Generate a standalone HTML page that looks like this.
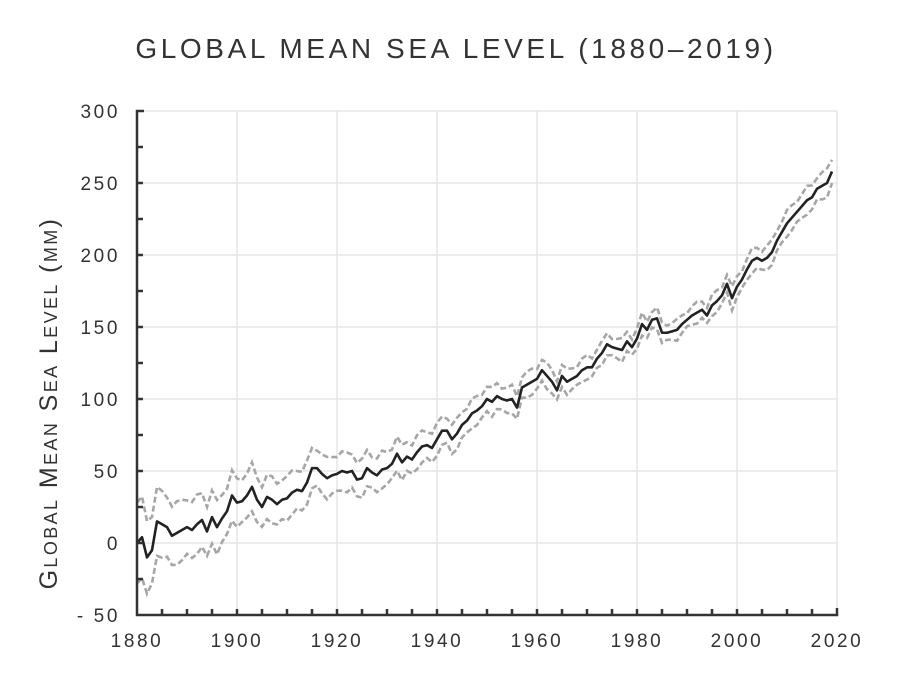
<!DOCTYPE html>
<html><head><meta charset="utf-8"><style>
html,body{margin:0;padding:0;background:#fff;}
svg{display:block;font-family:"Liberation Sans",sans-serif;}
</style></head><body>
<svg id="s" width="900" height="676" viewBox="0 0 900 676" xmlns="http://www.w3.org/2000/svg">
<text x="456" y="58" text-anchor="middle" font-size="28" fill="#333" letter-spacing="3.6" font-weight="300">GLOBAL MEAN SEA LEVEL (1880–2019)</text>
<g id="grid" stroke="#e2e2e2" stroke-width="1.3"></g>
<g id="ticks" font-size="19" fill="#333" letter-spacing="2.6"></g>
<text transform="translate(57,403) rotate(-90)" text-anchor="middle" font-size="25" fill="#333" letter-spacing="2.4">G<tspan font-size="18">LOBAL</tspan> M<tspan font-size="18">EAN</tspan> S<tspan font-size="18">EA</tspan> L<tspan font-size="18">EVEL</tspan> (<tspan font-size="18">MM</tspan>)</text>
<polyline id="up" fill="none" stroke="#a6a6a6" stroke-width="2.6" stroke-dasharray="6,3"/>
<polyline id="lo" fill="none" stroke="#a6a6a6" stroke-width="2.6" stroke-dasharray="6,3"/>
<polyline id="mn" fill="none" stroke="#222" stroke-width="2.6" stroke-linejoin="round"/>
<g id="ax" stroke="#333" stroke-width="2.5" fill="none"></g>
</svg>
<script>
var X=function(y){return 137+(y-1880)*5},Y=function(v){return 543-v*1.44};
var g=document.getElementById('grid'),t=document.getElementById('ticks'),a=document.getElementById('ax');
var ns='http://www.w3.org/2000/svg';
function el(p,n,at,txt){var e=document.createElementNS(ns,n);for(var k in at)e.setAttribute(k,at[k]);if(txt)e.textContent=txt;p.appendChild(e);return e;}
for(var y=1900;y<=2020;y+=20)el(g,'line',{x1:X(y),x2:X(y),y1:Y(300),y2:Y(-50)});
for(var v=0;v<=300;v+=50)el(g,'line',{x1:X(1880),x2:X(2020),y1:Y(v),y2:Y(v)});
for(var y=1880;y<=2020;y+=20)el(t,'text',{x:X(y),y:647,'text-anchor':'middle'},String(y));
for(var v=-50;v<=300;v+=50)el(t,'text',{x:120,y:Y(v)+7,'text-anchor':'end'},(v<0?'- 50':String(v)));
el(a,'path',{d:'M'+(X(1880)+7)+' '+Y(300)+'H'+X(1880)+'V'+Y(-50)+'H'+X(2020)+'V'+(Y(-50)-7)});
for(var y=1885;y<2020;y+=5)el(a,'line',{x1:X(y),x2:X(y),y1:Y(-50),y2:Y(-50)-6});
for(var v=-25;v<300;v+=25)el(a,'line',{x1:X(1880),x2:X(1880)+6,y1:Y(v),y2:Y(v)});
var d=[0,4,-10,-5,15,13,11,5,7,9,11,9,13,16,8,18,11,17,22,33,28,29,33,39,30,25,32,30,27,30,31,35,37,36,42,52,52,48,45,47,48,50,49,50,44,45,52,49,47,51,52,55,62,56,60,58,63,67,68,66,72,78,78,72,76,82,85,90,92,95,100,98,102,100,99,100,94,108,110,112,114,120,116,112,106,116,112,114,116,120,122,122,128,132,138,136,135,134,140,136,142,152,148,155,156,146,146,147,148,152,155,158,160,162,158,165,168,172,180,170,178,183,190,196,198,196,198,202,210,216,222,226,230,234,238,240,246,248,250,258];
function unc(y){var p=[[1880,28],[1885,22],[1900,16],[1920,13],[1940,10],[1960,8],[1990,6],[2019,9]];for(var i=1;i<p.length;i++)if(y<=p[i][0]){var f=(y-p[i-1][0])/(p[i][0]-p[i-1][0]);return p[i-1][1]+f*(p[i][1]-p[i-1][1]);}return 9;}
var m=[],u=[],l=[];
for(var i=0;i<d.length;i++){var yr=1880+i,e=unc(yr)+Math.sin(i*1.7)*1.5;m.push(X(yr)+','+Y(d[i]));u.push(X(yr)+','+Y(d[i]+e));l.push(X(yr)+','+Y(d[i]-e));}
document.getElementById('mn').setAttribute('points',m.join(' '));
document.getElementById('up').setAttribute('points',u.join(' '));
document.getElementById('lo').setAttribute('points',l.join(' '));
</script>
</body></html>
